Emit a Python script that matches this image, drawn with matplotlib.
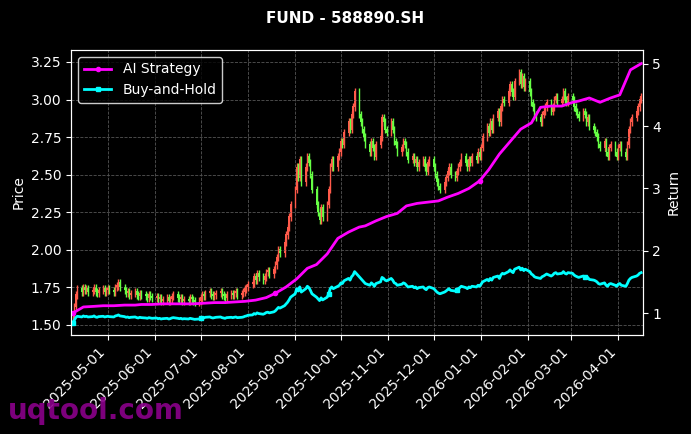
import numpy as np
import pandas as pd
import matplotlib
matplotlib.use("Agg")
import matplotlib.pyplot as plt
import matplotlib.dates as mdates

close = [
 1.55,1.62,1.70,1.74,1.72,1.75,1.73,1.74,1.72,1.73,1.75,1.72,1.71,1.73,1.74,1.72,1.73,
 1.74,1.73,1.72,1.75,1.76,1.78,1.75,1.73,1.71,1.72,1.70,1.71,1.72,1.70,1.69,1.71,1.70,1.69,1.68,1.70,1.69,
 1.68,1.69,1.67,1.68,1.66,1.67,1.68,1.66,1.67,1.69,1.70,1.68,1.67,1.68,1.66,1.67,1.66,1.68,1.67,1.66,1.65,
 1.66,1.68,1.70,1.69,1.71,1.72,1.70,1.69,1.70,1.71,1.72,1.70,1.69,1.68,1.70,1.71,1.70,1.71,1.72,1.70,1.71,1.72,1.74,
 1.75,1.77,1.78,1.82,1.80,1.84,1.82,1.80,1.82,1.85,1.86,1.84,1.87,1.90,1.95,2.00,1.98,2.05,2.10,2.15,2.22,
 2.30,2.40,2.55,2.48,2.60,2.45,2.55,2.62,2.58,2.50,2.40,2.30,2.25,2.20,2.28,2.22,2.30,2.40,2.55,2.60,2.55,2.62,
 2.65,2.72,2.70,2.78,2.85,2.80,2.90,2.95,3.05,2.90,2.85,2.80,2.75,2.70,2.65,2.72,2.68,2.62,2.70,2.75,2.88,2.85,2.80,
 2.78,2.85,2.80,2.72,2.70,2.65,2.68,2.72,2.70,2.65,2.60,2.62,2.58,2.60,2.55,2.58,2.60,2.55,2.52,2.58,
 2.60,2.55,2.50,2.45,2.42,2.40,2.45,2.48,2.52,2.55,2.50,2.48,2.52,2.55,2.58,2.62,2.58,2.55,2.60,2.58,2.62,2.60,2.65,
 2.62,2.68,2.75,2.82,2.78,2.85,2.80,2.88,2.92,2.85,2.95,3.00,2.98,3.05,3.10,3.05,3.02,3.12,3.18,3.10,3.15,3.08,
 3.12,3.05,2.98,2.95,2.90,2.88,2.85,2.90,2.92,2.95,2.98,2.92,2.95,3.00,3.02,2.98,3.00,3.05,3.00,2.98,
 3.02,3.00,2.95,2.92,2.90,2.88,2.92,2.90,2.85,2.88,2.82,2.80,2.78,2.75,2.70,2.68,2.72,2.65,2.62,2.68,2.70,2.65,
 2.62,2.68,2.70,2.65,2.62,2.70,2.80,2.85,2.88,2.92,2.95,3.00,3.02,
]
strategy = [
 1.0,1.10,1.11,1.12, 1.12,1.13,1.13,1.14, 1.14,1.15,1.15,1.15, 1.15,1.16,1.17,1.17,1.18,
 1.19,1.21,1.25,1.32,1.42, 1.55,1.72,1.78,1.95,2.20, 2.30,2.38,2.40,2.48,2.55,
 2.60,2.72,2.76,2.78, 2.80,2.86,2.92,3.00,3.12, 3.30,3.55,3.75,3.95,
 4.05,4.30,4.32,4.32, 4.38,4.40,4.45,4.38,4.45, 4.50,4.90,5.00,
]
bh_base = 1.83

n = len(close)
dates = pd.bdate_range("2025-04-08", periods=n)
c = np.array(close)
o = np.concatenate([[c[0]], c[:-1]])
wick = 0.025
hi = np.maximum(o, c) + wick
lo = np.minimum(o, c) - wick

fig = plt.figure(figsize=(6.91, 4.34), dpi=100, facecolor="black")
ax = fig.add_axes([0.103, 0.228, 0.827, 0.657], facecolor="black")
up = c >= o
cols = np.where(up, "#ff5a4a", "#66ff44")
x = mdates.date2num(dates)
ax.vlines(x, lo, hi, colors=cols, linewidth=1.0)
ax.bar(x, np.abs(c - o) + 0.004, bottom=np.minimum(o, c), width=0.8, color=cols)
ax.set_ylim(1.433, 3.33)
ax.set_xlim(x[0] - 1, x[-1] + 1)
ax.set_ylabel("Price", color="white")
ax.grid(True, color="#555555", linestyle="--", linewidth=0.6)
ax.xaxis.set_major_locator(mdates.MonthLocator())
ax.xaxis.set_major_formatter(mdates.DateFormatter("%Y-%m-%d"))
plt.setp(ax.get_xticklabels(), rotation=45, ha="right")

ax2 = ax.twinx()
idx = np.round(np.linspace(0, n - 1, len(strategy))).astype(int)
ax2.plot(x[idx], strategy, color="#ff00ff", linewidth=2, marker="o", markersize=3,
         markevery=20, label="AI Strategy")
ax2.plot(x, c / bh_base, color="#00ffff", linewidth=2, marker="s", markersize=3,
         markevery=60, label="Buy-and-Hold")
ax2.set_ylim(0.65, 5.22)
ax2.set_yticks([1, 2, 3, 4, 5])
ax2.set_ylabel("Return", color="white")

for a in (ax, ax2):
    a.tick_params(colors="white")
    for s in a.spines.values():
        s.set_color("white")

leg = ax2.legend(loc="upper left", facecolor="black", edgecolor="white", fontsize=10)
for t in leg.get_texts():
    t.set_color("white")

fig.suptitle("FUND - 588890.SH", color="white", fontweight="bold", fontsize=11, y=0.975)
fig.text(0.012, 0.035, "uqtool.com", color="#8b008b", fontsize=20, fontweight="bold", alpha=0.9)
fig.savefig("out.png", dpi=100, facecolor="black")
